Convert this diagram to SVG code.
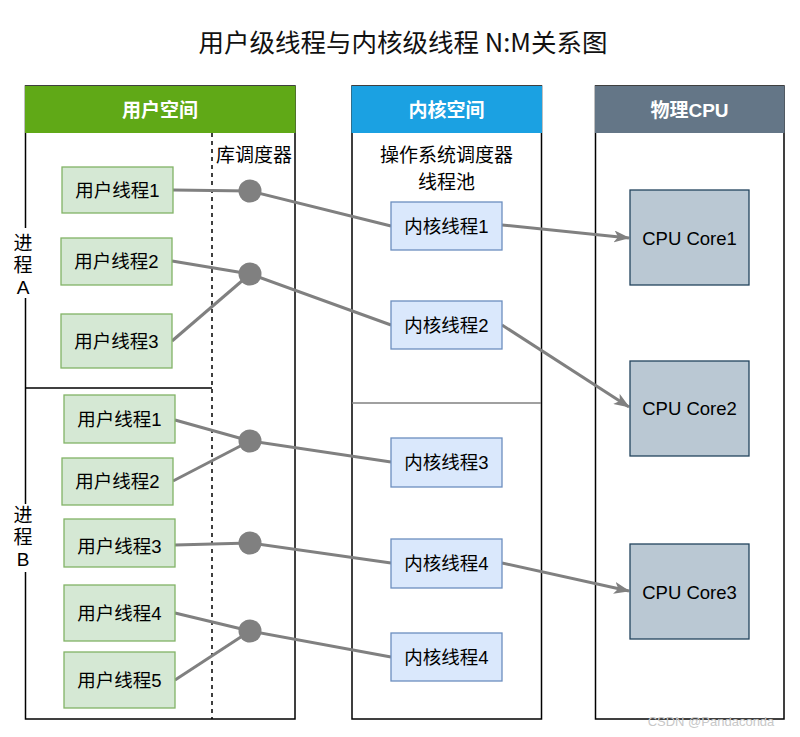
<svg xmlns="http://www.w3.org/2000/svg" width="800" height="737" viewBox="0 0 800 737">
<style>
text{font-family:"Liberation Sans","Noto Sans CJK SC",sans-serif;fill:#000;text-anchor:middle;dominant-baseline:central}
.title{font-family:"Noto Sans CJK SC","Liberation Sans",sans-serif;font-size:25.5px;fill:#111}
.hdr{font-weight:bold;font-size:19px;fill:#fff}
.col{fill:#fff;stroke:#000;stroke-width:1.5}
.u rect{fill:#d5e8d4;stroke:#82b366;stroke-width:1.3}
.k rect{fill:#dae8fc;stroke:#6c8ebf;stroke-width:1.3}
.c rect{fill:#bac8d3;stroke:#23445d;stroke-width:1.3}
.u text,.k text,.c text{font-size:18.5px}
.lbl{font-size:19px}
.edge{fill:none;stroke:#808080;stroke-width:3}
.dot{fill:#808080}
</style>
<defs>
<marker id="arr" viewBox="0 0 16 12" refX="15" refY="6" markerWidth="16" markerHeight="12" markerUnits="userSpaceOnUse" orient="auto">
<path d="M0,0 L16,6 L0,12 L4,6 Z" fill="#808080"/>
</marker>
</defs>
<rect width="800" height="737" fill="#fff"/>
<text class="title" x="403" y="40">用户级线程与内核级线程 N:M关系图</text>

<g id="col-user">
<rect class="col" x="25.5" y="86" width="269.5" height="633"/>
<rect x="25" y="86" width="270.5" height="47" fill="#60a917"/>
<text class="hdr" x="160" y="110">用户空间</text>
<line x1="212" y1="133" x2="212" y2="719" stroke="#000" stroke-width="1.5" stroke-dasharray="4,4"/>
<line x1="25" y1="388" x2="212" y2="388" stroke="#000" stroke-width="1.5"/>
<text class="lbl" x="254" y="155">库调度器</text>
<rect x="12" y="228" width="26" height="70" fill="#fff"/>
<text class="lbl" x="23" y="243">进</text>
<text class="lbl" x="23" y="265">程</text>
<text class="lbl" x="23" y="287">A</text>
<rect x="12" y="504" width="26" height="68" fill="#fff"/>
<text class="lbl" x="23" y="515">进</text>
<text class="lbl" x="23" y="537">程</text>
<text class="lbl" x="23" y="559">B</text>
</g>

<g id="col-kernel">
<rect class="col" x="352" y="86" width="189.5" height="633"/>
<rect x="351.5" y="86" width="190.5" height="47" fill="#1ba1e2"/>
<text class="hdr" x="446.5" y="110">内核空间</text>
<line x1="352" y1="403" x2="541" y2="403" stroke="#808080" stroke-width="1.5"/>
<text class="lbl" x="446.5" y="155">操作系统调度器</text>
<text class="lbl" x="446.5" y="182">线程池</text>
</g>

<g id="col-cpu">
<rect class="col" x="595.5" y="86" width="188.5" height="633"/>
<rect x="595" y="86" width="189.5" height="47" fill="#647687"/>
<text class="hdr" x="689.5" y="110">物理CPU</text>
</g>

<g id="connectors">
<polyline class="edge" points="173,190 250,191 391,226"/>
<polyline class="edge" points="172,261 250,274 391,325"/>
<polyline class="edge" points="172,341 250,274"/>
<polyline class="edge" points="175,420 250,441 391,462"/>
<polyline class="edge" points="173,481 250,441"/>
<polyline class="edge" points="175,545 250,543 391,563"/>
<polyline class="edge" points="175,613 250,631 391,657"/>
<polyline class="edge" points="175,680 250,631"/>
<line class="edge" x1="502" y1="225" x2="629" y2="238" marker-end="url(#arr)"/>
<line class="edge" x1="502" y1="325" x2="629" y2="407" marker-end="url(#arr)"/>
<line class="edge" x1="502" y1="563" x2="629" y2="591" marker-end="url(#arr)"/>
<circle class="dot" cx="250" cy="191" r="11.5"/>
<circle class="dot" cx="250" cy="274" r="11.5"/>
<circle class="dot" cx="250" cy="441" r="11.5"/>
<circle class="dot" cx="250" cy="543" r="11.5"/>
<circle class="dot" cx="250" cy="631" r="11.5"/>
</g>

<g id="ua1" class="u"><rect x="62" y="167" width="111" height="46"/><text x="117.5" y="190">用户线程1</text></g>
<g id="ua2" class="u"><rect x="61" y="238" width="111" height="47"/><text x="116.5" y="261.5">用户线程2</text></g>
<g id="ua3" class="u"><rect x="61" y="314" width="111" height="54"/><text x="116.5" y="341">用户线程3</text></g>
<g id="ub1" class="u"><rect x="64" y="395" width="111" height="48"/><text x="119.5" y="419.5">用户线程1</text></g>
<g id="ub2" class="u"><rect x="62" y="458" width="111" height="47"/><text x="117.5" y="481.5">用户线程2</text></g>
<g id="ub3" class="u"><rect x="64" y="519" width="111" height="48"/><text x="119.5" y="546">用户线程3</text></g>
<g id="ub4" class="u"><rect x="64" y="585" width="111" height="56"/><text x="119.5" y="613">用户线程4</text></g>
<g id="ub5" class="u"><rect x="64" y="652" width="111" height="56"/><text x="119.5" y="680">用户线程5</text></g>

<g id="k1" class="k"><rect x="391" y="202" width="111" height="48"/><text x="446.5" y="226">内核线程1</text></g>
<g id="k2" class="k"><rect x="391" y="301" width="111" height="48"/><text x="446.5" y="325">内核线程2</text></g>
<g id="k3" class="k"><rect x="391" y="438" width="111" height="49"/><text x="446.5" y="462.5">内核线程3</text></g>
<g id="k4" class="k"><rect x="391" y="539" width="111" height="49"/><text x="446.5" y="563.5">内核线程4</text></g>
<g id="k5" class="k"><rect x="391" y="633" width="111" height="48"/><text x="446.5" y="657">内核线程4</text></g>

<g id="c1" class="c"><rect x="630" y="190" width="119" height="95"/><text x="689.5" y="238">CPU Core1</text></g>
<g id="c2" class="c"><rect x="630" y="361" width="119" height="95"/><text x="689.5" y="408">CPU Core2</text></g>
<g id="c3" class="c"><rect x="630" y="544" width="119" height="95"/><text x="689.5" y="592">CPU Core3</text></g>

<text x="711" y="721" style="font-size:13px;fill:#c8c8c8">CSDN @Pandaconda</text>
</svg>
